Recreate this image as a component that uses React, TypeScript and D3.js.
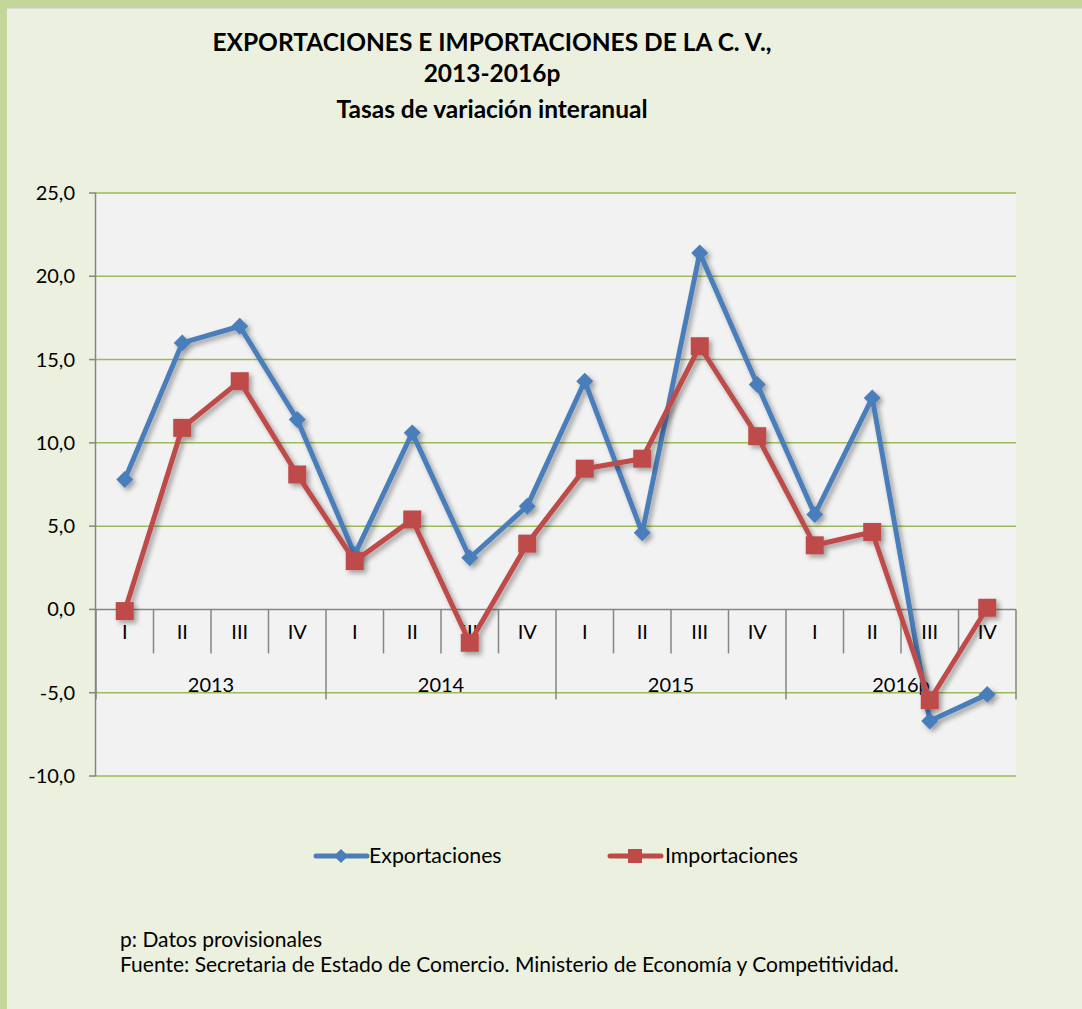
import React from "react";
import * as d3 from "d3";

const quarters = ["I", "II", "III", "IV", "I", "II", "III", "IV", "I", "II", "III", "IV", "I", "II", "III", "IV"];
const years = ["2013", "2014", "2015", "2016p"];
const exportaciones = [7.8, 16.0, 17.0, 11.4, 3.3, 10.6, 3.1, 6.2, 13.7, 4.6, 21.4, 13.5, 5.7, 12.7, -6.7, -5.1];
const importaciones = [-0.1, 10.9, 13.7, 8.1, 2.9, 5.4, -2.0, 3.95, 8.45, 9.05, 15.8, 10.4, 3.85, 4.65, -5.45, 0.1];
const yTicks = [25, 20, 15, 10, 5, 0, -5, -10];
const titleLines = ["EXPORTACIONES E IMPORTACIONES DE LA C. V.,", "2013-2016p", "Tasas de variación interanual"];
const notes = ["p: Datos provisionales", "Fuente: Secretaria de Estado de Comercio. Ministerio de Economía y Competitividad."];

const W = 1082, H = 1009;
const left = 96, right = 1016, top = 193, bottom = 776;
const FONT = "Lato, Carlito, 'Open Sans', sans-serif";
const BLUE = "#4a7ebb";
const RED = "#be4b48";

export default function App() {
  const x = d3.scaleBand<number>().domain(d3.range(quarters.length)).range([left, right]).paddingInner(0).paddingOuter(0);
  const y = d3.scaleLinear().domain([-10, 25]).range([bottom, top]);
  const cx = (i: number) => (x(i) as number) + x.bandwidth() / 2;
  const line = d3.line<number>().x((_, i) => cx(i)).y((d) => y(d));
  const y0 = y(0);
  const bw = x.bandwidth();
  const fmt = (t: number) => d3.format(".1f")(t).replace(".", ",").replace("\u2212", "-");

  return (
    <svg width={W} height={H} style={{ position: "absolute", left: 0, top: 0 }}>
      <defs>
        <filter id="sh" x="-20%" y="-20%" width="140%" height="140%">
          <feDropShadow dx="3" dy="3" stdDeviation="2.5" floodColor="#000" floodOpacity="0.35" />
        </filter>
      </defs>
      <rect x={0} y={0} width={W} height={H} fill="#c4d79b" />
      <rect x={7} y={8} width={W - 7} height={H - 8} fill="#ebf0df" />
      <line x1={7} x2={W} y1={8.5} y2={8.5} stroke="#d9d9d9" strokeWidth={1} />
      {titleLines.map((t, i) => (
        <text key={i} x={492} y={[51, 82, 118][i]} textAnchor="middle" fontFamily={FONT} fontWeight="bold" fontSize={24.5} fill="#000">{t}</text>
      ))}
      <rect x={left} y={top} width={right - left} height={bottom - top} fill="#f2f2f2" />
      {yTicks.map((t) => (
        <g key={t}>
          {t !== 0 && <line x1={left} x2={right} y1={y(t)} y2={y(t)} stroke="#9bbb59" strokeWidth={1.5} />}
          <line x1={89} x2={left} y1={y(t)} y2={y(t)} stroke="#868686" strokeWidth={1.5} />
          <text x={75} y={y(t)} dy="0.35em" textAnchor="end" fontFamily={FONT} fontSize={20} fill="#000">{fmt(t)}</text>
        </g>
      ))}
      <line x1={left - 0.5} x2={left - 0.5} y1={top} y2={bottom} stroke="#868686" strokeWidth={1.5} />
      <line x1={left} x2={right} y1={y0} y2={y0} stroke="#868686" strokeWidth={1.5} />
      {quarters.map((q, i) => (
        <g key={i}>
          {i > 0 && i % 4 !== 0 && <line x1={x(i)} x2={x(i)} y1={y0} y2={y0 + 44} stroke="#868686" strokeWidth={1.5} />}
          <text x={cx(i)} y={y0 + 30} textAnchor="middle" fontFamily={FONT} fontSize={20} fill="#000">{q}</text>
        </g>
      ))}
      {d3.range(years.length + 1).map((k) => {
        const xx = k === years.length ? right : (x(k * 4) as number);
        return <line key={k} x1={xx} x2={xx} y1={y0} y2={y0 + 90} stroke="#868686" strokeWidth={1.5} />;
      })}
      {years.map((yr, k) => (
        <text key={yr} x={(x(k * 4) as number) + bw * 2} y={y0 + 83} textAnchor="middle" fontFamily={FONT} fontSize={20} fill="#000">{yr}</text>
      ))}
      <g filter="url(#sh)">
        <path d={line(exportaciones) || ""} fill="none" stroke={BLUE} strokeWidth={5} strokeLinejoin="round" />
        {exportaciones.map((v, i) => (
          <rect key={i} x={cx(i) - 6} y={y(v) - 6} width={12} height={12} fill={BLUE} transform={`rotate(45 ${cx(i)} ${y(v)})`} />
        ))}
      </g>
      <g filter="url(#sh)">
        <path d={line(importaciones) || ""} fill="none" stroke={RED} strokeWidth={5} strokeLinejoin="round" />
        {importaciones.map((v, i) => (
          <rect key={i} x={cx(i) - 9} y={y(v) - 9} width={18} height={18} fill={RED} />
        ))}
      </g>
      <g>
        <line x1={316} x2={367} y1={856} y2={856} stroke={BLUE} strokeWidth={5} strokeLinecap="round" />
        <rect x={336} y={851} width={10} height={10} fill={BLUE} transform="rotate(45 341 856)" />
        <text x={369} y={856} dy="0.35em" fontFamily={FONT} fontSize={21.3} fill="#000">Exportaciones</text>
        <line x1={610} x2={661} y1={856} y2={856} stroke={RED} strokeWidth={5} strokeLinecap="round" />
        <rect x={628} y={849} width={14} height={14} fill={RED} />
        <text x={665} y={856} dy="0.35em" fontFamily={FONT} fontSize={21.3} fill="#000">Importaciones</text>
      </g>
      {notes.map((n, i) => (
        <text key={i} x={120} y={947 + i * 25} fontFamily={FONT} fontSize={21} fill="#000">{n}</text>
      ))}
    </svg>
  );
}
